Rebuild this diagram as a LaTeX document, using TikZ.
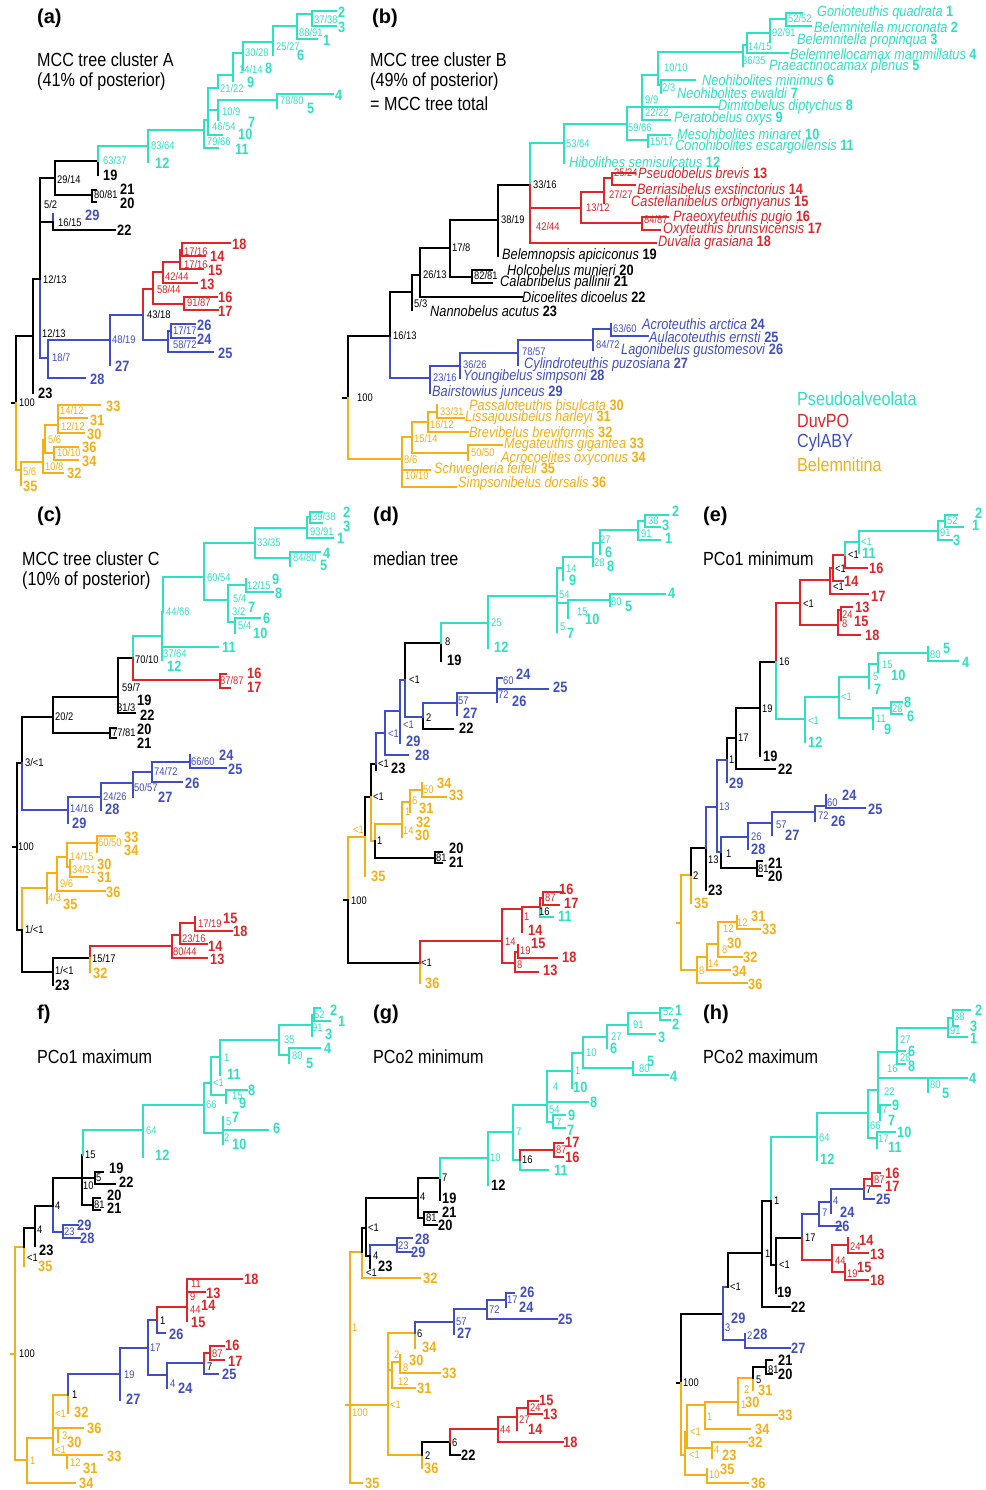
\documentclass[tikz,border=0pt]{standalone}
\usepackage{fontspec}
\newfontfamily\nf{Liberation Sans}[FakeStretch=0.85]
\newfontfamily\pf{Liberation Sans}
\definecolor{ps}{RGB}{45,226,192}
\definecolor{dp}{RGB}{224,36,40}
\definecolor{cy}{RGB}{64,78,196}
\definecolor{be}{RGB}{246,175,20}
\colorlet{bk}{black}
\tikzset{
  br/.style={line width=2pt, line cap=rect},
  leaf/.style={anchor=west, inner sep=0pt, font={\nf\bfseries\fontsize{15}{15}\selectfont}},
  bsup/.style={anchor=west, inner sep=0pt, font={\nf\fontsize{11}{11}\selectfont}},
  spname/.style={anchor=west, inner sep=0pt, font={\nf\fontsize{15}{15}\selectfont}},
  ttl/.style={anchor=west, inner sep=0pt, font={\nf\fontsize{19}{19}\selectfont}},
  plab/.style={anchor=west, inner sep=0pt, font={\pf\bfseries\fontsize{20}{20}\selectfont}}
}
\begin{document}
\begin{tikzpicture}[x=1pt,y=-1pt]
    \useasboundingbox (0,0) rectangle (985,1490);
    % panel letters and titles
    \foreach \px/\py/\lab in {37/18/(a),372/18/(b),37/516/(c),373/516/(d),703/516/(e),37/1014/f),373/1014/(g),703/1014/(h)}
    \node[plab] at (\px,\py) {\lab};
    \foreach \px/\py/\lab in {37/60/MCC tree cluster A,37/82/(41\% of posterior),370/60/MCC tree cluster B,370/82/(49\% of posterior),370/104/= MCC tree total,22/559/MCC tree cluster C,22/581/(10\% of posterior),373/559/median tree,703/559/PCo1 minimum,37/1057/PCo1 maximum,373/1057/PCo2 minimum,703/1057/PCo2 maximum}
    \node[ttl] at (\px,\py) {\lab};
    % root stubs
    \foreach \cl/\xa/\xb/\ya in {bk/12/16/403,bk/343/348/398,bk/13/17/847,bk/344/348/900,be/677/681/923,be/11/15/1354,be/346/350/1405,bk/677/681/1383}
    \draw[br,\cl] (\xa,\ya) -- (\xb,\ya);
    %
    % (a)
    \foreach \cl/\xa/\ya/\xb/\yb in {bk/16/403/33/336,bk/33/336/33/393,bk/33/336/40/279,cy/40/279/48/358,cy/48/358/110/340,cy/48/358/85/378,cy/110/340/110/365,cy/110/340/143/315,dp/143/315/153/289,cy/143/315/168/340,cy/168/340/213/352,cy/168/340/171/331,cy/171/331/195/324,cy/171/331/195/338,dp/153/289/163/272,dp/153/289/184/304,dp/184/304/217/297,dp/184/304/218/310,dp/163/272/197/283,dp/163/272/180/262,dp/180/262/182/250,dp/182/250/230/243,dp/182/250/205/256,dp/180/262/203/269,bk/40/279/40/205,bk/40/205/55/178,bk/40/205/53/222,cy/53/222/53/214,bk/53/222/115/230,bk/55/178/98/161,bk/55/178/92/195,bk/92/195/96/190,bk/92/195/96/202,bk/98/161/98/175,ps/98/161/148/146,ps/148/146/148/162,ps/148/146/204/130,ps/204/130/218/148,ps/204/130/208/120,ps/208/120/222/135,ps/208/120/218/110,ps/208/120/218/88,ps/218/110/277/100,ps/218/110/218/120,ps/277/100/333/94,ps/277/100/277/108,ps/218/88/233/75,ps/233/75/233/81,ps/233/75/243/53,ps/243/53/243/70,ps/243/53/273/42,ps/273/42/273/55,ps/273/42/297/26,ps/297/26/317/39,ps/297/26/312/14,ps/312/14/336/11,ps/312/14/336/26,be/16/403/21/470,be/21/470/21/485,be/21/470/43/462,be/43/462/63/473,be/43/462/45/440,be/45/440/58/425,be/45/440/54/453,be/54/453/78/447,be/54/453/78/460,be/58/425/84/433,be/58/425/58/411,be/58/411/100/405,be/58/411/87/418}
    \draw[br,\cl] (\xa,\ya) |- (\xb,\yb);
    \foreach \px/\py/\cl/\lab in {338/12/ps/2,338/27/ps/3,323/40/ps/1,297/55/ps/6,265/68/ps/8,247/82/ps/9,335/95/ps/4,307/108/ps/5,248/122/ps/7,238/134/ps/10,235/149/ps/11,155/163/ps/12,103/175/bk/19,120/189/bk/21,120/203/bk/20,85/215/cy/29,117/230/bk/22,232/244/dp/18,210/256/dp/14,208/270/dp/15,200/284/dp/13,218/297/dp/16,218/311/dp/17,197/325/cy/26,197/339/cy/24,218/353/cy/25,115/366/cy/27,90/379/cy/28,38/393/bk/23,106/406/be/33,90/420/be/31,87/434/be/30,82/447/be/36,82/461/be/34,67/473/be/32,23/486/be/35}
    \node[leaf,\cl] at (\px,\py) {\lab};
    \foreach \px/\py/\cl/\lab in {314/20/ps/{37/38},299/33/ps/{88/91},276/47/ps/{25/27},245/53/ps/{30/28},239/70/ps/{14/14},220/89/ps/{21/22},280/101/ps/{78/80},222/112/ps/{10/9},212/127/ps/{46/54},207/142/ps/{79/66},151/146/ps/{83/64},103/161/ps/{63/37},57/180/bk/{29/14},94/195/bk/{80/81},44/205/bk/{5/2},58/223/bk/{16/15},43/280/bk/{12/13},184/252/dp/{17/16},184/265/dp/{17/16},165/277/dp/{42/44},157/290/dp/{58/44},187/303/dp/{91/87},147/315/bk/{43/18},173/331/cy/{17/17},173/345/cy/{58/72},42/334/bk/{12/13},112/340/cy/{48/19},52/358/cy/{18/7},19/403/bk/{100},60/411/be/{14/12},61/427/be/{12/12},48/440/be/{5/6},57/453/be/{10/10},45/467/be/{10/8},23/472/be/{5/6}}
    \node[bsup,\cl] at (\px,\py) {\lab};
    %
    % (b)
    \foreach \cl/\xa/\ya/\xb/\yb in {bk/348/398/390/336,be/348/398/402/459,cy/390/336/430/378,bk/390/336/412/292,cy/430/378/430/393,cy/430/378/460/366,cy/460/366/460/378,cy/460/366/518/353,cy/518/353/518/365,cy/518/353/593/340,cy/593/340/593/350,cy/593/340/611/329,cy/611/329/611/324,cy/611/329/648/336,bk/412/292/412/310,bk/412/292/420/275,bk/420/275/522/297,bk/420/275/450/248,bk/450/248/472/277,bk/472/277/492/270,bk/472/277/492/283,bk/450/248/498/220,bk/498/220/498/256,bk/498/220/530/185,ps/530/185/564/143,dp/530/185/530/227,dp/530/227/656/243,dp/530/227/581/208,dp/581/208/604/192,dp/581/208/642/223,dp/642/223/668/217,dp/642/223/660/230,dp/604/192/612/178,dp/604/192/604/203,dp/612/178/635/173,dp/612/178/635/185,ps/564/143/564/163,ps/564/143/627/124,ps/627/124/648/140,ps/648/140/670/135,ps/648/140/648/147,ps/627/124/642/107,ps/642/107/718/107,ps/642/107/670/120,ps/642/107/658/75,ps/658/75/743/52,ps/658/75/661/85,ps/661/85/695/80,ps/661/85/661/93,ps/743/52/747/45,ps/743/52/743/66,ps/747/45/788/53,ps/747/45/770/33,ps/770/33/786/19,ps/770/33/770/42,ps/786/19/802/13,ps/786/19/811/26,be/402/459/412/437,be/402/459/402/476,be/402/476/430/470,be/402/476/456/487,be/412/437/428/422,be/412/437/468/453,be/468/453/502/445,be/468/453/468/460,be/428/422/437/412,be/428/422/468/432,be/437/412/437/405,be/437/412/464/418}
    \draw[br,\cl] (\xa,\ya) |- (\xb,\yb);
    \foreach \px/\py/\cl/\sp/\nr in {817/13/ps/Gonioteuthis quadrata/1,814/27/ps/Belemnitella mucronata/2,797/41/ps/Belemnitella propinqua/3,790/54/ps/Belemnellocamax mammillatus/4,769/67/ps/Praeactinocamax plenus/5,702/80/ps/Neohibolites minimus/6,677/93/ps/Neohibolites ewaldi/7,718/107/ps/Dimitobelus diptychus/8,674/119/ps/Peratobelus oxys/9,677/134/ps/Mesohibolites minaret/10,675/147/ps/Conohibolites escargollensis/11,569/162/ps/Hibolithes semisulcatus/12,638/173/dp/Pseudobelus brevis/13,637/189/dp/Berriasibelus exstinctorius/14,631/203/dp/Castellanibelus orbignyanus/15,673/218/dp/Praeoxyteuthis pugio/16,663/230/dp/Oxyteuthis brunsvicensis/17,658/243/dp/Duvalia grasiana/18,502/256/bk/Belemnopsis apiciconus/19,507/270/bk/Holcobelus munieri/20,500/283/bk/Calabribelus pallinii/21,522/297/bk/Dicoelites dicoelus/22,430/311/bk/Nannobelus acutus/23,642/324/cy/Acroteuthis arctica/24,649/337/cy/Aulacoteuthis ernsti/25,621/351/cy/Lagonibelus gustomesovi/26,524/365/cy/Cylindroteuthis puzosiana/27,463/377/cy/Youngibelus simpsoni/28,432/393/cy/Bairstowius junceus/29,469/405/be/Passaloteuthis bisulcata/30,465/418/be/Lissajousibelus harleyi/31,469/432/be/Brevibelus breviformis/32,504/445/be/Megateuthis gigantea/33,501/459/be/Acrocoelites oxyconus/34,434/470/be/Schwegleria feifeli/35,458/484/be/Simpsonibelus dorsalis/36}
    \node[spname,\cl] at (\px,\py) {{\itshape\sp} \textbf{\nr}};
    \foreach \px/\py/\cl/\lab in {788/19/ps/{52/52},772/33/ps/{92/91},748/47/ps/{14/15},742/61/ps/{36/35},664/68/ps/{10/10},662/88/ps/{2/3},645/100/ps/{9/9},645/113/ps/{22/22},628/128/ps/{59/66},650/142/ps/{15/17},566/144/ps/{53/64},533/185/bk/{33/16},614/173/dp/{25/24},609/195/dp/{27/27},586/208/dp/{13/12},644/220/dp/{84/87},536/227/dp/{42/44},501/220/bk/{38/19},452/248/bk/{17/8},423/275/bk/{26/13},474/276/bk/{82/81},414/304/bk/{5/3},393/336/bk/{16/13},613/329/cy/{63/60},596/345/cy/{84/72},522/352/cy/{78/57},463/365/cy/{36/26},433/378/cy/{23/16},357/398/bk/{100},440/412/be/{33/31},430/425/be/{16/12},414/439/be/{15/14},471/453/be/{50/50},404/460/be/{8/6},405/476/be/{10/10}}
    \node[bsup,\cl] at (\px,\py) {\lab};
    \foreach \px/\py/\cl/\lab in {797/399/ps/Pseudoalveolata,797/421/dp/DuvPO,797/443/cy/CylABY,797/465/be/Belemnitina}
    \node[ttl,\cl] at (\px,\py) {\lab};
    %
    % (c)
    \foreach \cl/\xa/\ya/\xb/\yb in {bk/17/847/22/763,bk/17/847/22/930,bk/22/763/53/717,cy/22/763/68/810,bk/53/717/118/697,bk/53/717/110/733,bk/110/733/116/728,bk/110/733/116/738,bk/118/697/133/658,bk/118/697/118/702,bk/118/697/135/713,ps/133/658/162/636,dp/133/658/220/680,dp/220/680/226/674,dp/220/680/230/688,ps/162/636/163/612,ps/162/636/218/647,ps/162/636/162/660,ps/163/612/204/577,ps/204/577/255/543,ps/204/577/228/600,ps/255/543/307/528,ps/255/543/290/558,ps/290/558/320/552,ps/290/558/290/566,ps/307/528/333/538,ps/307/528/310/517,ps/310/517/322/512,ps/310/517/322/523,ps/228/600/246/585,ps/228/600/235/622,ps/228/600/228/607,ps/246/585/246/579,ps/246/585/273/592,ps/235/622/260/618,ps/235/622/235/633,cy/68/810/68/823,cy/68/810/101/797,cy/101/797/101/810,cy/101/797/133/783,cy/133/783/133/797,cy/133/783/152/772,cy/152/772/182/782,cy/152/772/190/762,cy/190/762/190/755,cy/190/762/226/768,be/22/930/47/888,bk/22/930/53/972,be/47/888/47/903,be/47/888/57/873,be/57/873/105/891,be/57/873/67/857,be/67/857/97/843,be/67/857/70/867,be/97/843/115/836,be/97/843/97/852,be/70/867/70/860,be/70/867/87/877,bk/53/972/53/985,bk/53/972/90/958,dp/90/958/172/946,be/90/958/90/972,dp/172/946/207/958,dp/172/946/180/935,dp/180/935/195/923,dp/180/935/207/944,dp/195/923/195/917,dp/195/923/232/931}
    \draw[br,\cl] (\xa,\ya) |- (\xb,\yb);
    \foreach \px/\py/\cl/\lab in {343/512/ps/2,343/526/ps/3,337/538/ps/1,323/553/ps/4,320/565/ps/5,272/579/ps/9,275/593/ps/8,248/607/ps/7,263/618/ps/6,253/633/ps/10,222/647/ps/11,167/666/ps/12,247/673/dp/16,247/687/dp/17,137/700/bk/19,140/715/bk/22,137/729/bk/20,137/743/bk/21,219/755/cy/24,228/769/cy/25,185/783/cy/26,158/797/cy/27,105/809/cy/28,72/823/cy/29,124/837/be/33,124/850/be/34,97/864/be/30,97/877/be/31,106/892/be/36,63/904/be/35,223/918/dp/15,233/931/dp/18,208/946/dp/14,210/959/dp/13,93/973/be/32,55/985/bk/23}
    \node[leaf,\cl] at (\px,\py) {\lab};
    \foreach \px/\py/\cl/\lab in {312/517/ps/{39/38},310/532/ps/{93/91},257/543/ps/{33/35},293/558/ps/{84/80},207/578/ps/{60/54},247/586/ps/{12/15},233/599/ps/{5/4},232/612/ps/{3/2},238/626/ps/{5/4},166/612/ps/{44/66},163/654/ps/{37/64},135/660/bk/{70/10},220/681/dp/{87/87},122/688/bk/{59/7},117/708/bk/{31/3},55/717/bk/{20/2},112/733/bk/{77/81},191/762/cy/{66/60},154/772/cy/{74/72},134/788/cy/{50/57},103/797/cy/{24/26},70/809/cy/{14/16},25/763/bk/{3/<1},98/843/be/{60/50},70/857/be/{14/15},72/870/be/{34/31},60/884/be/{9/6},48/898/be/{4/3},18/847/bk/{100},25/930/bk/{1/<1},198/924/dp/{17/19},182/939/dp/{23/16},173/952/dp/{80/44},92/959/bk/{15/17},55/971/bk/{1/<1}}
    \node[bsup,\cl] at (\px,\py) {\lab};
    %
    % (d)
    \foreach \cl/\xa/\ya/\xb/\yb in {be/348/900/365/837,bk/348/900/420/963,be/420/963/420/983,dp/420/963/502/941,dp/502/941/522/909,dp/502/941/515/963,dp/515/963/538/972,dp/515/963/518/952,dp/518/952/557/958,dp/518/952/518/945,dp/522/909/522/932,dp/522/909/540/907,ps/540/907/553/917,dp/540/907/543/898,dp/543/898/563/892,dp/543/898/559/905,bk/365/837/371/797,be/365/837/365/876,bk/371/797/376/764,be/371/797/375/841,be/375/841/402/824,bk/375/841/435/858,bk/435/858/442/852,bk/435/858/442/863,be/402/824/410/802,be/402/824/402/837,be/410/802/422/790,be/410/802/410/812,be/422/790/422/783,be/422/790/446/797,bk/376/764/376/770,cy/376/764/385/733,cy/385/733/408/755,cy/385/733/400/711,cy/400/711/400/743,cy/400/711/405/680,bk/405/680/441/643,cy/405/680/423/717,bk/423/717/453/729,cy/423/717/457/703,cy/457/703/457/715,cy/457/703/497/693,cy/497/693/548/689,cy/497/693/502/678,cy/497/693/497/702,bk/441/643/441/661,ps/441/643/488/623,ps/488/623/488/648,ps/488/623/557/596,ps/557/596/563/568,ps/557/596/568/603,ps/557/596/557/632,ps/568/603/610/600,ps/568/603/568/618,ps/610/600/665/594,ps/610/600/610/606,ps/563/568/563/580,ps/563/568/593/557,ps/593/557/593/566,ps/593/557/600/543,ps/600/543/600/554,ps/600/543/638/530,ps/638/530/660/540,ps/638/530/645/521,ps/645/521/668/515,ps/645/521/660/527}
    \draw[br,\cl] (\xa,\ya) |- (\xb,\yb);
    \foreach \px/\py/\cl/\lab in {672/511/ps/2,662/525/ps/3,665/538/ps/1,605/552/ps/6,607/566/ps/8,569/580/ps/9,668/593/ps/4,625/606/ps/5,585/619/ps/10,567/633/ps/7,494/647/ps/12,447/660/bk/19,516/674/cy/24,553/687/cy/25,512/701/cy/26,463/713/cy/27,459/728/bk/22,406/741/cy/29,415/755/cy/28,391/768/bk/23,437/783/be/34,449/795/be/33,419/808/be/31,416/822/be/32,415/835/be/30,449/848/bk/20,449/862/bk/21,371/876/be/35,559/889/dp/16,564/903/dp/17,558/916/ps/11,528/930/dp/14,531/943/dp/15,562/957/dp/18,543/970/dp/13,425/983/be/36}
    \node[leaf,\cl] at (\px,\py) {\lab};
    \foreach \px/\py/\cl/\lab in {648/521/ps/38,641/534/ps/91,600/540/ps/27,594/563/ps/28,566/569/ps/14,559/595/ps/54,611/602/ps/80,577/612/ps/15,560/627/ps/5,491/623/ps/25,445/642/bk/8,409/680/bk/{<1},503/681/cy/60,498/695/cy/72,458/701/cy/57,426/718/bk/2,403/725/cy/{<1},388/734/cy/{<1},378/764/bk/{<1},423/790/be/50,412/801/be/6,405/812/be/1,403/831/be/14,373/797/bk/{<1},353/830/be/{<1},377/841/bk/1,436/858/bk/81,351/901/bk/100,545/898/dp/87,539/912/bk/16,524/917/dp/1,505/942/dp/14,520/951/dp/19,517/965/dp/8,421/963/bk/{<1}}
    \node[bsup,\cl] at (\px,\py) {\lab};
    %
    % (e)
    \foreach \cl/\xa/\ya/\xb/\yb in {be/681/923/691/875,be/681/923/697/970,be/697/970/747/983,be/697/970/707/957,be/707/957/730/970,be/707/957/718/944,be/718/944/742/957,be/718/944/737/922,be/737/922/737/916,be/737/922/760/929,be/691/875/691/903,bk/691/875/706/848,bk/706/848/706/890,cy/706/848/717/807,cy/717/807/727/760,cy/717/807/721/852,bk/727/760/736/738,cy/727/760/727/782,bk/736/738/775/769,bk/736/738/760/708,bk/760/708/760/756,bk/760/708/776/662,dp/776/662/800/603,ps/776/662/805/719,dp/800/603/830/580,dp/800/603/838/625,dp/838/625/860/635,dp/838/625/841/610,dp/841/610/852/607,dp/841/610/841/620,dp/830/580/868/594,dp/830/580/833/568,dp/833/568/843/581,dp/833/568/845/555,dp/845/555/867/568,ps/845/555/859/542,ps/859/542/859/553,ps/859/542/938/531,ps/938/531/952/540,ps/938/531/945/521,ps/945/521/957/515,ps/945/521/963/527,ps/805/719/805/742,ps/805/719/839/697,ps/839/697/869/677,ps/839/697/873/718,ps/869/677/869/688,ps/869/677/878/664,ps/878/664/928/653,ps/878/664/878/672,ps/928/653/958/661,ps/928/653/928/647,ps/873/718/873/729,ps/873/718/891/708,ps/891/708/902/702,ps/891/708/902/714,bk/721/852/757/868,cy/721/852/748/837,bk/757/868/762/861,bk/757/868/762/876,cy/748/837/748/849,cy/748/837/772/823,cy/772/823/772/835,cy/772/823/815/812,cy/815/812/826/806,cy/815/812/815/821,cy/826/806/826/795,cy/826/806/865/808}
    \draw[br,\cl] (\xa,\ya) |- (\xb,\yb);
    \foreach \px/\py/\cl/\lab in {975/513/ps/2,972/525/ps/1,953/540/ps/3,862/553/ps/11,869/568/dp/16,844/581/dp/14,871/596/dp/17,855/607/dp/13,854/621/dp/15,865/635/dp/18,943/648/ps/5,962/662/ps/4,891/675/ps/10,874/689/ps/7,904/702/ps/8,907/716/ps/6,884/729/ps/9,808/742/ps/12,763/756/bk/19,778/769/bk/22,729/783/cy/29,842/795/cy/24,868/809/cy/25,831/821/cy/26,785/835/cy/27,751/849/cy/28,768/863/bk/21,768/876/bk/20,708/890/bk/23,694/903/be/35,751/916/be/31,762/929/be/33,727/943/be/30,743/957/be/32,732/971/be/34,748/984/be/36}
    \node[leaf,\cl] at (\px,\py) {\lab};
    \foreach \px/\py/\cl/\lab in {947/521/ps/52,940/533/ps/91,861/542/ps/{<1},848/555/bk/{<1},835/569/bk/{<1},833/587/bk/{<1},803/604/bk/{<1},842/615/dp/24,842/624/dp/8,779/662/bk/16,930/655/ps/80,882/665/ps/15,873/677/ps/5,841/697/ps/{<1},892/709/ps/28,876/719/ps/11,808/721/ps/{<1},762/709/bk/19,738/738/bk/17,729/760/bk/1,719/807/cy/13,827/803/cy/60,818/816/cy/72,776/825/cy/57,751/837/cy/26,726/854/bk/1,708/860/bk/13,758/869/bk/81,693/876/bk/2,737/923/be/12,723/929/be/12,722/950/be/8,708/964/be/14,699/971/be/8}
    \node[bsup,\cl] at (\px,\py) {\lab};
    %
    % (f)
    \foreach \cl/\xa/\ya/\xb/\yb in {be/15/1354/24/1247,be/15/1354/27/1460,be/24/1247/24/1266,bk/24/1247/35/1228,bk/35/1228/35/1246,bk/35/1228/53/1206,cy/53/1206/63/1232,bk/53/1206/82/1178,cy/63/1232/78/1225,cy/63/1232/80/1238,bk/82/1178/83/1155,bk/82/1178/95/1178,bk/82/1178/93/1205,ps/83/1155/143/1130,bk/95/1178/103/1172,bk/95/1178/115/1184,bk/93/1205/100/1198,bk/93/1205/100/1210,ps/143/1130/143/1157,ps/143/1130/204/1105,ps/204/1105/211/1083,ps/204/1105/223/1133,ps/211/1083/220/1057,ps/211/1083/226/1095,ps/220/1057/279/1040,ps/220/1057/220/1075,ps/226/1095/247/1090,ps/226/1095/226/1103,ps/223/1133/223/1117,ps/223/1133/268/1130,ps/223/1133/223/1144,ps/279/1040/312/1025,ps/279/1040/289/1055,ps/289/1055/320/1048,ps/289/1055/289/1063,ps/312/1025/312/1036,ps/312/1025/314/1015,ps/314/1015/320/1008,ps/314/1015/330/1021,be/27/1460/75/1483,be/27/1460/53/1438,be/53/1438/68/1395,be/53/1438/58/1428,be/53/1438/67/1455,be/68/1395/68/1413,cy/68/1395/120/1374,be/58/1428/83/1428,be/58/1428/58/1442,be/67/1455/102/1455,be/67/1455/67/1468,cy/120/1374/120/1400,cy/120/1374/148/1348,cy/148/1348/157/1320,cy/148/1348/167/1375,cy/157/1320/165/1333,dp/157/1320/187/1307,dp/187/1307/242/1279,dp/187/1307/205/1292,dp/187/1307/187/1321,cy/167/1375/167/1388,cy/167/1375/204/1363,cy/204/1363/218/1374,dp/204/1363/210/1353,dp/210/1353/224/1346,dp/210/1353/224/1360}
    \draw[br,\cl] (\xa,\ya) |- (\xb,\yb);
    \foreach \px/\py/\cl/\lab in {330/1010/ps/2,338/1021/ps/1,325/1034/ps/3,324/1048/ps/4,306/1063/ps/5,227/1074/ps/11,248/1090/ps/8,239/1103/ps/9,232/1117/ps/7,273/1128/ps/6,232/1144/ps/10,155/1155/ps/12,109/1168/bk/19,119/1182/bk/22,107/1195/bk/20,107/1208/bk/21,77/1225/cy/29,80/1238/cy/28,39/1250/bk/23,38/1266/be/35,244/1279/dp/18,206/1293/dp/13,201/1305/dp/14,191/1322/dp/15,169/1334/cy/26,225/1345/dp/16,228/1361/dp/17,222/1374/cy/25,178/1388/cy/24,126/1399/cy/27,74/1412/be/32,87/1428/be/36,67/1442/be/30,107/1456/be/33,83/1468/be/31,79/1483/be/34}
    \node[leaf,\cl] at (\px,\py) {\lab};
    \foreach \px/\py/\cl/\lab in {314/1015/ps/52,312/1028/ps/91,284/1040/ps/35,292/1056/ps/80,224/1058/ps/1,213/1083/ps/{<1},232/1096/ps/15,206/1105/ps/66,226/1122/ps/5,224/1138/ps/2,146/1131/ps/64,85/1155/bk/15,96/1178/bk/5,83/1186/bk/10,94/1205/bk/81,55/1206/bk/4,64/1232/cy/23,37/1230/bk/4,27/1258/bk/{<1},19/1354/bk/100,191/1284/dp/11,190/1297/dp/9,190/1310/dp/44,160/1321/bk/1,212/1354/dp/87,150/1348/cy/17,207/1367/bk/7,124/1375/cy/19,170/1384/cy/4,72/1395/bk/1,55/1414/be/{<1},62/1436/be/3,55/1450/be/{<1},70/1463/be/12,30/1461/be/1}
    \node[bsup,\cl] at (\px,\py) {\lab};
    %
    % (g)
    \foreach \cl/\xa/\ya/\xb/\yb in {be/350/1405/362/1252,be/350/1405/362/1483,be/350/1405/388/1405,be/362/1252/420/1278,bk/362/1252/366/1228,bk/366/1228/418/1198,bk/366/1228/370/1256,cy/370/1256/397/1245,bk/370/1256/370/1268,cy/397/1245/412/1238,cy/397/1245/412/1252,bk/418/1198/440/1178,bk/418/1198/424/1218,bk/424/1218/437/1212,bk/424/1218/437/1225,bk/440/1178/440/1200,ps/440/1178/488/1158,ps/488/1158/488/1185,ps/488/1158/513/1132,ps/513/1132/547/1105,ps/513/1132/520/1160,ps/520/1160/548/1170,dp/520/1160/554/1150,dp/554/1150/563/1143,dp/554/1150/563/1157,ps/547/1105/572/1071,ps/547/1105/588/1102,ps/547/1105/553/1122,ps/553/1122/565/1115,ps/553/1122/565/1128,ps/572/1071/572/1088,ps/572/1071/583/1053,ps/583/1053/607/1037,ps/583/1053/633/1068,ps/633/1068/633/1062,ps/633/1068/668/1075,ps/607/1037/607/1048,ps/607/1037/628/1025,ps/628/1025/655/1034,ps/628/1025/660/1013,ps/660/1013/670/1008,ps/660/1013/670/1020,be/388/1405/415/1333,be/388/1405/392/1370,be/388/1405/422/1455,be/415/1333/415/1348,cy/415/1333/454/1322,cy/454/1322/454/1334,cy/454/1322/487/1309,cy/487/1309/557/1319,cy/487/1309/506/1300,cy/506/1300/514/1293,cy/506/1300/506/1307,be/392/1370/400/1362,be/392/1370/415/1388,be/400/1362/400/1355,be/400/1362/440/1373,be/422/1455/422/1468,bk/422/1455/450/1442,bk/450/1442/460/1455,dp/450/1442/498/1429,dp/498/1429/563/1442,dp/498/1429/517/1417,dp/517/1417/517/1430,dp/517/1417/528/1408,dp/528/1408/538/1401,dp/528/1408/542/1414}
    \draw[br,\cl] (\xa,\ya) |- (\xb,\yb);
    \foreach \px/\py/\cl/\lab in {675/1010/ps/1,672/1024/ps/2,658/1037/ps/3,610/1048/ps/6,647/1061/ps/5,670/1076/ps/4,573/1087/ps/10,590/1102/ps/8,568/1115/ps/9,567/1130/ps/7,565/1142/dp/17,565/1157/dp/16,554/1170/ps/11,491/1185/bk/12,442/1198/bk/19,442/1212/bk/21,438/1225/bk/20,415/1239/cy/28,411/1252/cy/29,378/1266/bk/23,423/1278/be/32,520/1292/cy/26,519/1307/cy/24,558/1319/cy/25,457/1333/cy/27,422/1347/be/34,409/1360/be/30,442/1373/be/33,417/1388/be/31,539/1400/dp/15,543/1414/dp/13,528/1429/dp/14,563/1442/dp/18,461/1455/bk/22,424/1468/be/36,365/1483/be/35}
    \node[leaf,\cl] at (\px,\py) {\lab};
    \foreach \px/\py/\cl/\lab in {663/1012/ps/52,633/1025/ps/91,611/1037/ps/27,586/1053/ps/10,639/1069/ps/80,575/1071/ps/1,553/1087/ps/4,549/1110/ps/54,556/1123/ps/7,516/1132/ps/7,556/1150/dp/87,522/1160/bk/16,490/1158/ps/10,442/1178/bk/7,420/1197/bk/4,426/1218/bk/81,368/1228/bk/{<1},398/1246/cy/23,373/1256/bk/4,366/1273/bk/{<1},507/1300/cy/17,489/1310/cy/72,456/1322/cy/57,417/1334/bk/6,352/1328/be/1,394/1355/be/2,403/1368/be/8,398/1382/be/12,390/1405/be/{<1},352/1413/be/100,530/1408/dp/24,519/1420/dp/27,500/1430/dp/44,452/1443/bk/6,425/1456/bk/2}
    \node[bsup,\cl] at (\px,\py) {\lab};
    %
    % (h)
    \foreach \cl/\xa/\ya/\xb/\yb in {bk/681/1383/723/1314,be/681/1383/685/1455,be/685/1455/687/1432,be/685/1455/707/1475,be/707/1475/748/1483,be/707/1475/707/1469,be/687/1432/705/1405,be/687/1432/712/1448,be/712/1448/747/1442,be/712/1448/712/1458,be/705/1405/750/1429,be/705/1405/738/1402,be/738/1402/753/1378,be/738/1402/777/1415,be/753/1378/753/1390,bk/753/1378/766/1367,bk/766/1367/772/1360,bk/766/1367/772/1374,cy/723/1314/728/1287,cy/723/1314/745/1340,cy/723/1314/723/1320,cy/745/1340/745/1334,cy/745/1340/790/1348,bk/728/1287/762/1253,bk/762/1253/790/1307,bk/762/1253/771/1201,ps/771/1201/817/1137,bk/771/1201/776/1265,bk/776/1265/776/1293,bk/776/1265/802/1238,cy/802/1238/819/1214,dp/802/1238/832/1260,cy/819/1214/841/1226,cy/819/1214/831/1202,cy/831/1202/831/1213,cy/831/1202/864/1189,cy/864/1189/874/1199,dp/864/1189/872/1179,dp/872/1179/880/1173,dp/872/1179/880/1186,dp/832/1260/848/1245,dp/832/1260/845/1272,dp/848/1245/848/1238,dp/848/1245/868/1253,dp/845/1272/845/1264,dp/845/1272/868/1280,ps/817/1137/817/1160,ps/817/1137/868/1113,ps/868/1113/877/1138,ps/868/1113/878/1090,ps/877/1138/895/1132,ps/877/1138/877/1148,ps/878/1090/928/1078,ps/878/1090/880/1112,ps/878/1090/897/1052,ps/928/1078/967/1078,ps/928/1078/928/1092,ps/880/1112/890/1105,ps/880/1112/880/1120,ps/897/1052/948/1028,ps/897/1052/905/1051,ps/897/1052/905/1064,ps/948/1028/967/1037,ps/948/1028/953/1018,ps/953/1018/970/1010,ps/953/1018/958/1026}
    \draw[br,\cl] (\xa,\ya) |- (\xb,\yb);
    \foreach \px/\py/\cl/\lab in {975/1010/ps/2,970/1026/ps/3,970/1038/ps/1,908/1051/ps/6,908/1066/ps/8,969/1078/ps/4,942/1093/ps/5,892/1105/ps/9,888/1120/ps/7,897/1132/ps/10,888/1147/ps/11,820/1159/ps/12,885/1173/dp/16,885/1186/dp/17,876/1199/cy/25,840/1212/cy/24,835/1226/cy/26,859/1240/dp/14,870/1254/dp/13,857/1267/dp/15,870/1280/dp/18,777/1292/bk/19,791/1307/bk/22,731/1318/cy/29,753/1334/cy/28,791/1348/cy/27,778/1360/bk/21,778/1374/bk/20,758/1390/be/31,745/1402/be/30,778/1415/be/33,755/1429/be/34,748/1442/be/32,722/1455/be/23,720/1469/be/35,751/1483/be/36}
    \node[leaf,\cl] at (\px,\py) {\lab};
    \foreach \px/\py/\cl/\lab in {954/1017/ps/38,950/1031/ps/91,900/1040/ps/27,900/1058/ps/28,887/1069/ps/16,930/1085/ps/80,884/1092/ps/22,882/1110/ps/7,870/1126/ps/66,878/1139/ps/17,819/1138/ps/64,874/1180/dp/87,866/1190/bk/7,833/1201/cy/4,822/1213/cy/7,805/1238/bk/17,850/1247/dp/24,835/1261/dp/44,847/1274/dp/19,774/1201/bk/1,765/1254/bk/1,779/1265/bk/{<1},730/1287/bk/{<1},725/1328/cy/3,747/1336/cy/2,768/1370/bk/81,756/1380/bk/5,683/1383/bk/100,744/1390/be/2,741/1405/be/1,707/1417/be/1,690/1432/be/{<1},714/1450/be/4,689/1455/be/{<1},709/1475/be/10}
    \node[bsup,\cl] at (\px,\py) {\lab};
\end{tikzpicture}
\end{document}
